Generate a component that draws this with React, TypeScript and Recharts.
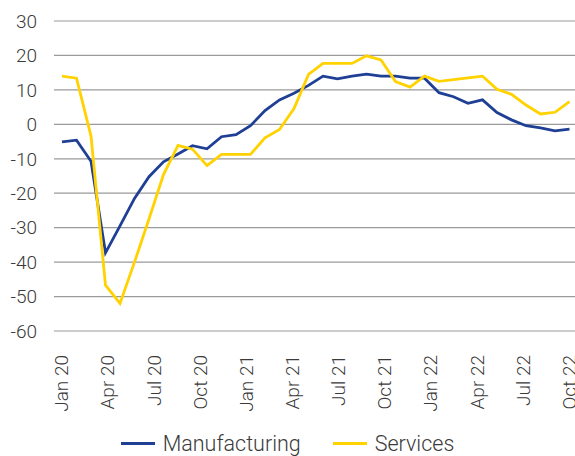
import { LineChart, Line, XAxis, YAxis, CartesianGrid, Legend } from 'recharts';

const tickLabels = ['Jan 20', 'Apr 20', 'Jul 20', 'Oct 20', 'Jan 21', 'Apr 21', 'Jul 21', 'Oct 21', 'Jan 22', 'Apr 22', 'Jul 22', 'Oct 22'];

const manufacturing = [
  -5.1, -4.6, -10.7, -37.3, -29.5, -21.5, -15.2, -10.9, -8.6, -6.2, -7.1, -3.6,
  -3.0, -0.4, 4.0, 7.1, 9.0, 11.3, 14.0, 13.2, 14.0, 14.6, 14.0, 14.0,
  13.4, 13.4, 9.2, 8.0, 6.1, 7.1, 3.4, 1.3, -0.4, -1.0, -1.9, -1.4,
];

const services = [
  14.0, 13.4, -3.4, -46.7, -52.0, -40.0, -27.5, -14.6, -6.1, -7.2, -12.0, -8.7,
  -8.7, -8.7, -3.9, -1.5, 4.6, 14.5, 17.7, 17.7, 17.7, 19.9, 18.7, 12.4,
  10.8, 14.0, 12.5, 13.0, 13.5, 14.0, 10.2, 8.7, 5.6, 3.0, 3.5, 6.6,
];

const yTicks = [-60, -50, -40, -30, -20, -10, 0, 10, 20, 30];

const BLUE = '#1f3f95';
const YELLOW = '#ffd200';
const TEXT = '#3a3a3a';
const FONT = 'Roboto, "Liberation Sans", sans-serif';

const data = manufacturing.map((m, i) => ({ i, manufacturing: m, services: services[i] }));
const last = data.length - 1;
// labels are spread evenly over the whole series
const xTicks = tickLabels.map((_, k) => (k * last) / (tickLabels.length - 1));

const XTick = ({ x, y, index }: any) => (
  <g transform={`translate(${x},${y + 24})`}>
    <text
      transform="rotate(-90)"
      textAnchor="end"
      dy="0.33em"
      fill={TEXT}
      fontSize={19}
      fontFamily={FONT}
      fontWeight={300}
    >
      {tickLabels[index]}
    </text>
  </g>
);

const LegendContent = () => (
  <div
    style={{
      display: 'flex',
      justifyContent: 'center',
      alignItems: 'center',
      gap: 32,
      fontFamily: FONT,
      fontWeight: 300,
      fontSize: 21.5,
      color: TEXT,
      height: 34,
      marginTop: 4,
    }}
  >
    {[
      { name: 'Manufacturing', color: BLUE },
      { name: 'Services', color: YELLOW },
    ].map((s) => (
      <div key={s.name} style={{ display: 'flex', alignItems: 'center', gap: 8 }}>
        <div style={{ width: 34, height: 3, background: s.color }} />
        <span>{s.name}</span>
      </div>
    ))}
  </div>
);

export default function App() {
  return (
    <div style={{ position: 'absolute', left: 0, top: 0, background: '#fff' }}>
      <LineChart width={575} height={456} data={data} margin={{ top: 21, right: 0, bottom: 0, left: 0 }}>
        <CartesianGrid vertical={false} stroke="#9a9a9a" strokeWidth={1.2} />
        <XAxis
          dataKey="i"
          type="number"
          domain={[0, last]}
          ticks={xTicks}
          interval={0}
          axisLine={false}
          tickLine={false}
          tickSize={0}
          tickMargin={0}
          height={91}
          padding={{ left: 8, right: 5.5 }}
          tick={<XTick />}
        />
        <YAxis
          domain={[-60, 30]}
          ticks={yTicks}
          interval={0}
          axisLine={false}
          tickLine={false}
          tickSize={0}
          tickMargin={17}
          width={54}
          tick={{ fill: TEXT, fontSize: 19, fontFamily: FONT, fontWeight: 300 }}
        />
        <Legend verticalAlign="bottom" height={34} content={<LegendContent />} />
        <Line
          type="linear"
          dataKey="manufacturing"
          name="Manufacturing"
          stroke={BLUE}
          strokeWidth={2.8}
          dot={false}
          isAnimationActive={false}
        />
        <Line
          type="linear"
          dataKey="services"
          name="Services"
          stroke={YELLOW}
          strokeWidth={2.8}
          dot={false}
          isAnimationActive={false}
        />
      </LineChart>
    </div>
  );
}
